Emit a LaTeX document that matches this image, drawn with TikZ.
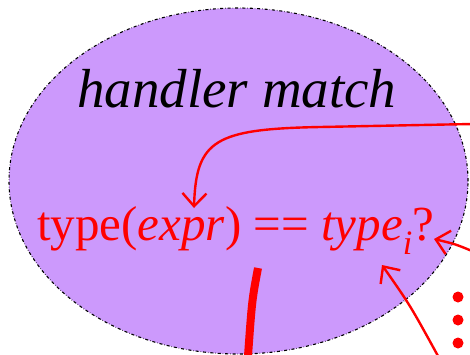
\documentclass[tikz,border=0pt]{standalone}
\usepackage{fontspec}
\setmainfont{Liberation Serif}
\usetikzlibrary{arrows.meta,shapes.geometric}
\definecolor{blobfill}{RGB}{204,153,252}
\tikzset{
  redarrow/.style={draw=red, line width=2.4pt, -{Straight Barb[length=13pt,width=24pt,line width=2.4pt]}},
  reddot/.style={circle, fill=red, inner sep=0pt, minimum size=11pt},
  bigtext/.style={inner sep=0pt, anchor=base west},
}
\begin{document}
\begin{tikzpicture}[x=1pt,y=-1pt]
\useasboundingbox (0,0) rectangle (470,354);
\node[ellipse, draw=black, dash dot, line width=1.1pt, fill=blobfill, minimum width=459pt, minimum height=346pt, inner sep=0pt] (blob) at (238.5,181) {};
\node[bigtext, font=\fontsize{55}{55}\selectfont\itshape] (title) at (77,107) {handler match};
\node[bigtext, text=red, font=\fontsize{49}{49}\selectfont] (expr) at (37,240) {type(\textit{expr}) == \textit{type}\textsubscript{\textit{i}}?};
\coordinate (a1s) at (472,124);
\coordinate (a1m) at (320,127);
\coordinate (a1t) at (194,208);
\coordinate (a2s) at (472,251);
\coordinate (a2t) at (434,239);
\coordinate (a3s) at (438,356);
\coordinate (a3t) at (382,265);
\coordinate (ls) at (258,268);
\coordinate (le) at (248,356);
\draw[redarrow] (a1s) -- (a1m) .. controls (215,129) and (196,140) .. (a1t);
\draw[redarrow] (a2s) .. controls (455,244) .. (a2t);
\draw[redarrow] (a3s) .. controls (410,305) .. (a3t);
\draw[red, line width=8pt] (ls) .. controls (252,300) .. (le);
\node[reddot] (d1) at (458,297) {};
\node[reddot] (d2) at (458,320) {};
\node[reddot] (d3) at (458,343) {};
\end{tikzpicture}
\end{document}
